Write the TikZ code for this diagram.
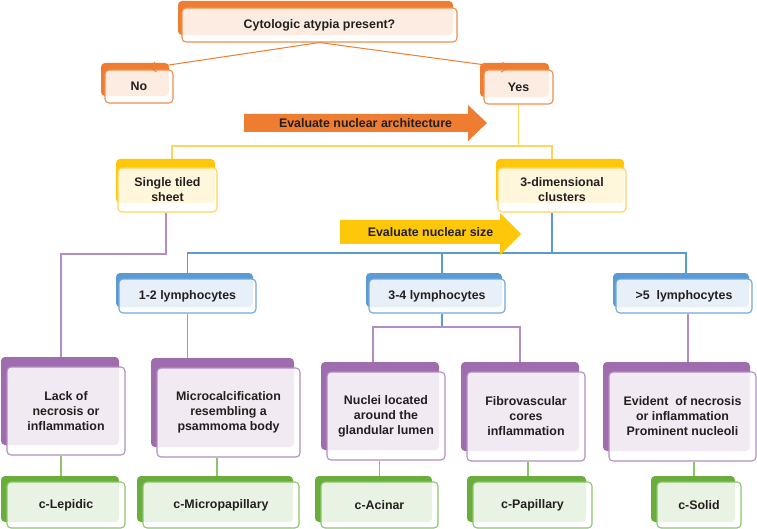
\documentclass[tikz,border=0pt]{standalone}
\usepackage{fontspec}
\setmainfont{Liberation Sans}
\usepackage{xcolor}
\usetikzlibrary{shadows,arrows.meta,backgrounds}

\definecolor{txt}{HTML}{231F20}
\definecolor{orgD}{HTML}{EE7D31}
\definecolor{orgL}{HTML}{F08D4C}
\definecolor{ylwD}{HTML}{FFC70A}
\definecolor{ylwL}{HTML}{FFD45A}
\definecolor{bluD}{HTML}{5B9BD5}
\definecolor{bluL}{HTML}{6FA8DC}
\definecolor{purD}{HTML}{9F6DAE}
\definecolor{purL}{HTML}{B28DC5}
\definecolor{grnD}{HTML}{6AAD3D}
\definecolor{grnL}{HTML}{8CC66A}

\begin{document}
\begin{tikzpicture}[x=1pt,y=1pt,
  font=\bfseries\fontsize{12.4}{15}\selectfont, text=txt,
  box/.style={rectangle,rounded corners=4pt,line width=1.1pt,fill=white,fill opacity=0.86,text opacity=1,align=center,inner sep=0pt},
  obox/.style={box,draw=orgL,general shadow={fill=orgD,fill opacity=1,shadow xshift=-4pt,shadow yshift=7pt}},
  ybox/.style={box,draw=ylwL,general shadow={fill=ylwD,fill opacity=1,shadow xshift=-2pt,shadow yshift=9pt}},
  bbox/.style={box,draw=bluL,general shadow={fill=bluD,fill opacity=1,shadow xshift=-3pt,shadow yshift=6pt}},
  pbox/.style={box,draw=purL,general shadow={fill=purD,fill opacity=1,shadow xshift=-6pt,shadow yshift=10pt}},
  gbox/.style={box,draw=grnL,general shadow={fill=grnD,fill opacity=1,shadow xshift=-6pt,shadow yshift=6pt}},
  arrlab/.style={inner sep=0pt},
  oarr/.style={draw=orgD,line width=1pt,-{Straight Barb[length=5pt,width=10pt]},shorten >=11pt},
  conn/.style={line width=1.1pt},
  yline/.style={conn,draw=ylwL},
  bline/.style={conn,draw=bluD},
  pline/.style={conn,draw=purL},
  gline/.style={conn,draw=grnL}]
  \useasboundingbox (0,0) rectangle (757,-529);
  % question and answers
  \node[obox,minimum width=275pt,minimum height=34pt] (q) at (319.5,-25) {Cytologic atypia present?};
  \node[obox,minimum width=68pt,minimum height=33pt] (no) at (139,-86.5) {No};
  \node[obox,minimum width=69pt,minimum height=34pt] (yes) at (518.5,-87) {Yes};
  \fill[orgD] (244,-114) -- (468,-114) -- (468,-105) -- (487,-123) -- (468,-141)
    -- (468,-132) -- (244,-132) -- cycle;
  \node[arrlab] (arch) at (365.5,-123) {Evaluate nuclear architecture};
  % architecture
  \node[ybox,minimum width=99pt,minimum height=44pt] (sheet) at (167.5,-190) {Single tiled\\sheet};
  \node[ybox,minimum width=128pt,minimum height=44pt] (dim) at (562,-190) {3-dimensional\\clusters};
  \fill[ylwD] (340,-220) -- (500,-220) -- (500,-213) -- (521,-234) -- (500,-255)
    -- (500,-244) -- (340,-244) -- cycle;
  \node[arrlab] (size) at (430.5,-232.5) {Evaluate nuclear size};
  % nuclear size
  \node[bbox,minimum width=137pt,minimum height=34pt] (l12) at (187.5,-296) {1-2 lymphocytes};
  \node[bbox,minimum width=136pt,minimum height=34pt] (l34) at (437,-296) {3-4 lymphocytes};
  \node[bbox,minimum width=136pt,minimum height=34pt] (l5) at (684,-296) {>5\ \ lymphocytes};
  % findings
  \node[pbox,minimum width=118pt,minimum height=88pt] (lack) at (66,-411) {Lack of\\necrosis or\\inflammation};
  \node[pbox,minimum width=143pt,minimum height=89pt] (micro) at (228.5,-412.5) {Microcalcification\\resembling a\\psammoma body};
  \node[pbox,minimum width=118pt,minimum height=88pt] (nuclei) at (386,-416) {Nuclei located\\around the\\glandular lumen};
  \node[pbox,minimum width=118pt,minimum height=89pt] (fibro) at (526,-416.5) {Fibrovascular\\cores\\inflammation};
  \node[pbox,minimum width=147pt,minimum height=89pt] (evid) at (682.5,-416.5) {Evident\ \ of necrosis\\or inflammation\\Prominent nucleoli};
  % subtypes
  \node[gbox,minimum width=118pt,minimum height=46pt] (lep) at (66,-505) {c-Lepidic};
  \node[gbox,minimum width=156pt,minimum height=46pt] (mp) at (221,-505) {c-Micropapillary};
  \node[gbox,minimum width=117pt,minimum height=46pt] (aci) at (379.5,-505) {c-Acinar};
  \node[gbox,minimum width=119pt,minimum height=46pt] (pap) at (532.5,-505) {c-Papillary};
  \node[gbox,minimum width=84pt,minimum height=46pt] (sol) at (699,-505) {c-Solid};
  \draw[oarr] (q.south) -- (no.north);
  \draw[oarr] (q.south) -- (yes.north);
  \begin{pgfonlayer}{background}
    \coordinate (ys) at (518.5,-146);
    \coordinate (ps) at (166,-254);
    \coordinate (bs) at (552,-253);
    \coordinate (ms) at (442,-327);
    \draw[yline] (yes.south) -- (ys);
    \draw[yline] (ys) -| ([xshift=4.5pt]sheet.north);
    \draw[yline] (ys) -| ([xshift=-10pt]dim.north);
    \draw[pline] ([xshift=-1.5pt]sheet.south) -- (ps) -| ([xshift=-5pt]lack.north);
    \draw[bline] ([xshift=-10pt]dim.south) -- (bs);
    \draw[bline] (bs) -| (l12.north);
    \draw[bline] (bs) -| ([xshift=5pt]l34.north);
    \draw[bline] (bs) -| ([xshift=2pt]l5.north);
    \draw[pline] (l12.south) -- (l12.south |- micro.north);
    \draw[bline] ([xshift=5pt]l34.south) -- (ms);
    \draw[pline] (ms) -| ([xshift=-13pt]nuclei.north);
    \draw[pline] (ms) -| ([xshift=-6pt]fibro.north);
    \draw[pline] ([xshift=4pt]l5.south) -- ([xshift=4pt]l5.south |- evid.north);
    \draw[gline] ([xshift=-5pt]lep.north |- lack.south) -- ([xshift=-5pt]lep.north);
    \draw[gline] ([xshift=-4pt]mp.north |- micro.south) -- ([xshift=-4pt]mp.north);
    \draw[gline] (aci.north |- nuclei.south) -- (aci.north);
    \draw[gline] ([xshift=-4.5pt]pap.north |- fibro.south) -- ([xshift=-4.5pt]pap.north);
    \draw[gline] ([xshift=-5pt]sol.north |- evid.south) -- ([xshift=-5pt]sol.north);
  \end{pgfonlayer}
\end{tikzpicture}
\end{document}
